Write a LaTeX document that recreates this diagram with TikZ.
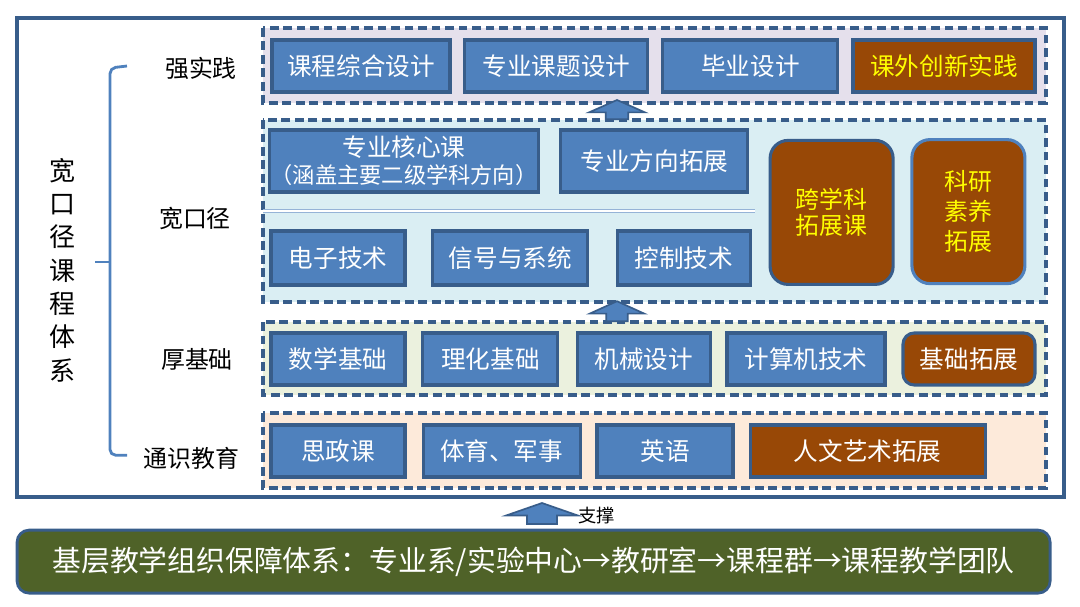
\documentclass[tikz,border=0pt]{standalone}
\usepackage{fontspec}
\setmainfont{Noto Sans CJK SC}
\usepackage{tikz}
\definecolor{BoxFill}{RGB}{79,129,189}
\definecolor{BoxLine}{RGB}{56,93,138}
\definecolor{ExtFill}{RGB}{152,72,6}
\definecolor{ExtText}{RGB}{255,255,0}
\definecolor{RowA}   {RGB}{229,224,236}
\definecolor{RowB}   {RGB}{218,238,243}
\definecolor{RowC}   {RGB}{235,241,222}
\definecolor{RowD}   {RGB}{253,234,218}
\definecolor{SepLine}{RGB}{149,179,215}
\definecolor{BaseBg} {RGB}{79,98,40}
\tikzset{
  nd_blue/.style={
    rectangle, draw=BoxLine, fill=BoxFill, line width=2.2pt,
    text=white, minimum height=1.3cm, inner sep=1pt,
    font=\fontsize{17.5}{20}\selectfont},
  nd_ext/.style={
    nd_blue, fill=ExtFill, text=ExtText},
  nd_extr/.style={
    nd_blue, fill=ExtFill, rounded corners=8pt},
  nd_tall/.style={
    nd_blue, fill=ExtFill, text=ExtText, rounded corners=0.45cm,
    minimum height=3.6cm, align=center,
    font=\fontsize{17}{18.8}\selectfont},
  lane/.style={draw=BoxLine, line width=2.4pt, dash pattern=on 6.2pt off 3.4pt},
  lbl/.style={font=\fontsize{17}{20}\selectfont, text=black},
}
%% lane: top, bottom, fill
\newcommand{\lanebox}[3]{%
  \draw[lane,fill=#3] (6.575,#1) rectangle (26.15,#2);
}
%% block arrow: x, bottom, tip, head half width, shaft half width
\newcommand{\blockup}[5]{%
  \filldraw[fill=BoxFill,draw=BoxLine,line width=1.2pt]
    (#1-#5,#2) -- (#1-#5,#3-0.31) -- (#1-#4,#3-0.31) -- (#1,#3)
    -- (#1+#4,#3-0.31) -- (#1+#5,#3-0.31) -- (#1+#5,#2) -- cycle;
}

\begin{document}
\begin{tikzpicture}[x=1cm,y=1cm]
\useasboundingbox (0,0) rectangle (27,-15.15);

%% outer frame
\draw[BoxLine,line width=2.2pt] (0.425,-0.45) rectangle (26.6,-12.425);

%% left title + bracket
\node[font=\fontsize{18.5}{23.7}\selectfont,align=center] at (1.575,-6.75) (T)
  {宽\\口\\径\\课\\程\\体\\系};
\draw[BoxFill,line width=2pt,rounded corners=4pt]
  (3.175,-1.65) -- (2.75,-1.7) -- (2.75,-11.38) -- (3.175,-11.38);
\draw[BoxFill,line width=2pt] (2.75,-6.55) -- (2.375,-6.55);

%% row labels
\node[lbl] at (5.025,-1.7)  (L1){强实践};
\node[lbl] at (4.875,-5.45) (L2){宽口径};
\node[lbl] at (4.925,-8.975)(L3){厚基础};
\node[lbl] at (4.79,-11.45) (L4){通识教育};

%% lanes
\lanebox{-0.7}{-2.575}{RowA}
\lanebox{-3.0}{-7.55}{RowB}
\lanebox{-8.05}{-9.875}{RowC}
\lanebox{-10.325}{-12.2}{RowD}

%% row A
\node[nd_blue,minimum width=4.45cm]  at (9.025,-1.65) (A1){课程综合设计};
\node[nd_blue,minimum width=4.575cm] at (13.91,-1.65) (A2){专业课题设计};
\node[nd_blue,minimum width=4.375cm] at (18.76,-1.65) (A3){毕业设计};
\node[nd_ext,minimum width=4.55cm]   at (23.6,-1.65)  (A4){课外创新实践};

%% row B
\node[nd_blue,minimum width=6.65cm,minimum height=1.55cm,align=center]
  at (10.1,-4.025) (B1){专业核心课\\[-1pt]{\fontsize{15.8}{18}\selectfont（涵盖主要二级学科方向）}};
\node[nd_blue,minimum width=4.675cm,minimum height=1.55cm] at (16.36,-4.025) (B2){专业方向拓展};
\draw[SepLine,line width=0.8pt,double=white,double distance=1.1pt]
  (6.575,-5.28) -- (18.875,-5.28);
\node[nd_blue,minimum width=3.35cm,minimum height=1.35cm]  at (8.45,-6.45)  (B3){电子技术};
\node[nd_blue,minimum width=3.875cm,minimum height=1.35cm] at (12.76,-6.45) (B4){信号与系统};
\node[nd_blue,minimum width=3.325cm,minimum height=1.35cm] at (17.09,-6.45) (B5){控制技术};
\node[nd_tall,minimum width=3.075cm] at (20.79,-5.31) (B6){跨学科\\拓展课};
\node[nd_tall,minimum width=2.825cm,draw=BoxFill,
  font=\fontsize{17}{21.5}\selectfont] at (24.21,-5.29) (B7){科研\\素养\\拓展};

%% row C
\node[nd_blue,minimum width=3.35cm]  at (8.45,-8.975)  (C1){数学基础};
\node[nd_blue,minimum width=3.375cm] at (12.26,-8.975) (C2){理化基础};
\node[nd_blue,minimum width=3.325cm] at (16.09,-8.975) (C3){机械设计};
\node[nd_blue,minimum width=3.95cm]  at (20.15,-8.975) (C4){计算机技术};
\node[nd_extr,minimum width=3.3cm]   at (24.225,-8.975)(C5){基础拓展};

%% row D
\node[nd_blue,minimum width=3.35cm]  at (8.45,-11.275)  (D1){思政课};
\node[nd_blue,minimum width=3.925cm] at (12.54,-11.275) (D2){体育、军事};
\node[nd_blue,minimum width=3.4cm]   at (16.625,-11.275)(D3){英语};
\node[nd_extr,minimum width=5.875cm,rounded corners=0pt] at (21.69,-11.275) (D4){人文艺术拓展};

%% block arrows
\blockup{15.425}{-2.98}{-2.5}{0.7}{0.28}
\blockup{15.425}{-8.03}{-7.53}{0.68}{0.27}
\blockup{13.55}{-13.1}{-12.575}{0.89}{0.375}
\node[font=\fontsize{13}{15}\selectfont] at (14.92,-12.88) (S){支撑};

%% base bar
\node[rectangle,rounded corners=0.3cm,draw=BoxLine,line width=2pt,fill=BaseBg,
  text=white,minimum width=25.825cm,minimum height=1.575cm,
  font=\fontsize{20.5}{22}\selectfont] at (13.34,-14.04) (E)
  {基层教学组织保障体系：专业系/实验中心→教研室→课程群→课程教学团队};

\end{tikzpicture}
\end{document}
